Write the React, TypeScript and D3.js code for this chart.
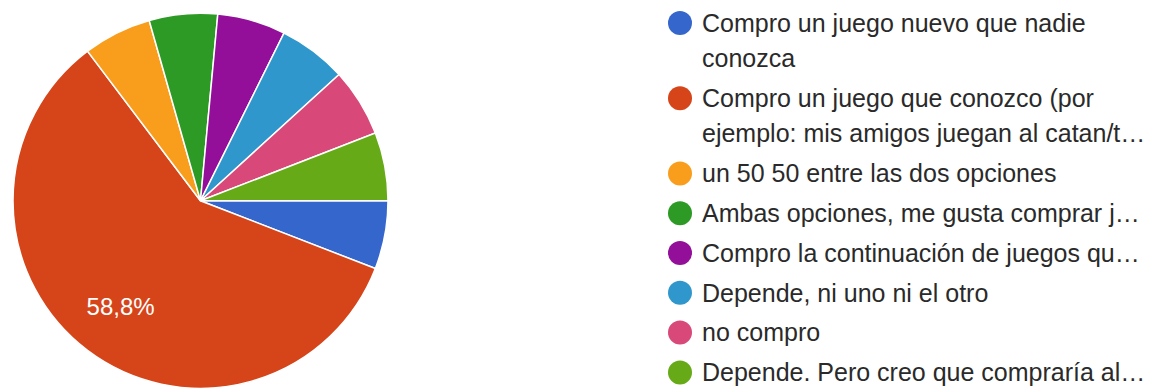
import React from "react";
import * as d3 from "d3";

const categories = [
  "Compro un juego nuevo que nadie conozca",
  "Compro un juego que conozco (por ejemplo: mis amigos juegan al catan/t…",
  "un 50 50 entre las dos opciones",
  "Ambas opciones, me gusta comprar j…",
  "Compro la continuación de juegos qu…",
  "Depende, ni uno ni el otro",
  "no compro",
  "Depende. Pero creo que compraría al…",
];
const legendLines: string[][] = [
  ["Compro un juego nuevo que nadie", "conozca"],
  ["Compro un juego que conozco (por", "ejemplo: mis amigos juegan al catan/t…"],
  ["un 50 50 entre las dos opciones"],
  ["Ambas opciones, me gusta comprar j…"],
  ["Compro la continuación de juegos qu…"],
  ["Depende, ni uno ni el otro"],
  ["no compro"],
  ["Depende. Pero creo que compraría al…"],
];
const counts = [1, 10, 1, 1, 1, 1, 1, 1];
const colors = ["#3566cc", "#d6451a", "#f99d1c", "#2c9a25", "#930f99", "#2f97cc", "#d84878", "#66aa18"];

const W = 1158;
const H = 390;
const cx = 200.5;
const cy = 200.8;
const R = 187.5;

export default function App() {
  const total = d3.sum(counts);
  const pie = d3
    .pie<number>()
    .sort(null)
    .startAngle(Math.PI / 2)
    .endAngle(Math.PI / 2 + 2 * Math.PI)
    .value((d) => d);
  const arcs = pie(counts);
  const arc = d3.arc<d3.PieArcDatum<number>>().innerRadius(0).outerRadius(R);

  const lineH = 35.4;
  const gap = 4.4;
  let y = 23;
  const legendY: number[] = [];
  legendLines.forEach((lines) => {
    legendY.push(y);
    y += lines.length * lineH + gap;
  });

  const fmt = (v: number) =>
    (Math.round((v / total) * 1000) / 10).toFixed(1).replace(".", ",") + "%";

  return (
    <svg
      width={W}
      height={H}
      style={{ position: "fixed", left: 0, top: 0, background: "#fff" }}
      fontFamily="'Liberation Sans', Arial, sans-serif"
    >
      <g transform={`translate(${cx},${cy})`}>
        {arcs.map((a, i) => (
          <path key={i} d={arc(a) || ""} fill={colors[i]} stroke="#fff" strokeWidth={1.5} />
        ))}
        {arcs.map((a, i) => {
          if (a.endAngle - a.startAngle < 0.5) return null;
          const mid = (a.startAngle + a.endAngle) / 2;
          const rr = R * 0.707;
          const x = Math.sin(mid) * rr;
          const yy = -Math.cos(mid) * rr;
          return (
            <text key={"l" + i} x={x} y={yy} dy="0.35em" textAnchor="middle" fill="#fff" fontSize={24}>
              {fmt(a.data)}
            </text>
          );
        })}
      </g>
      <g>
        {legendLines.map((lines, i) => (
          <g key={i}>
            <circle cx={680} cy={legendY[i]} r={12} fill={colors[i]} />
            <text x={702} y={legendY[i]} fill="#2a2a2a" fontSize={25}>
              {lines.map((t, j) => (
                <tspan key={j} x={702} y={legendY[i] + j * lineH} dy="0.35em">
                  {t}
                </tspan>
              ))}
            </text>
          </g>
        ))}
      </g>
    </svg>
  );
}
